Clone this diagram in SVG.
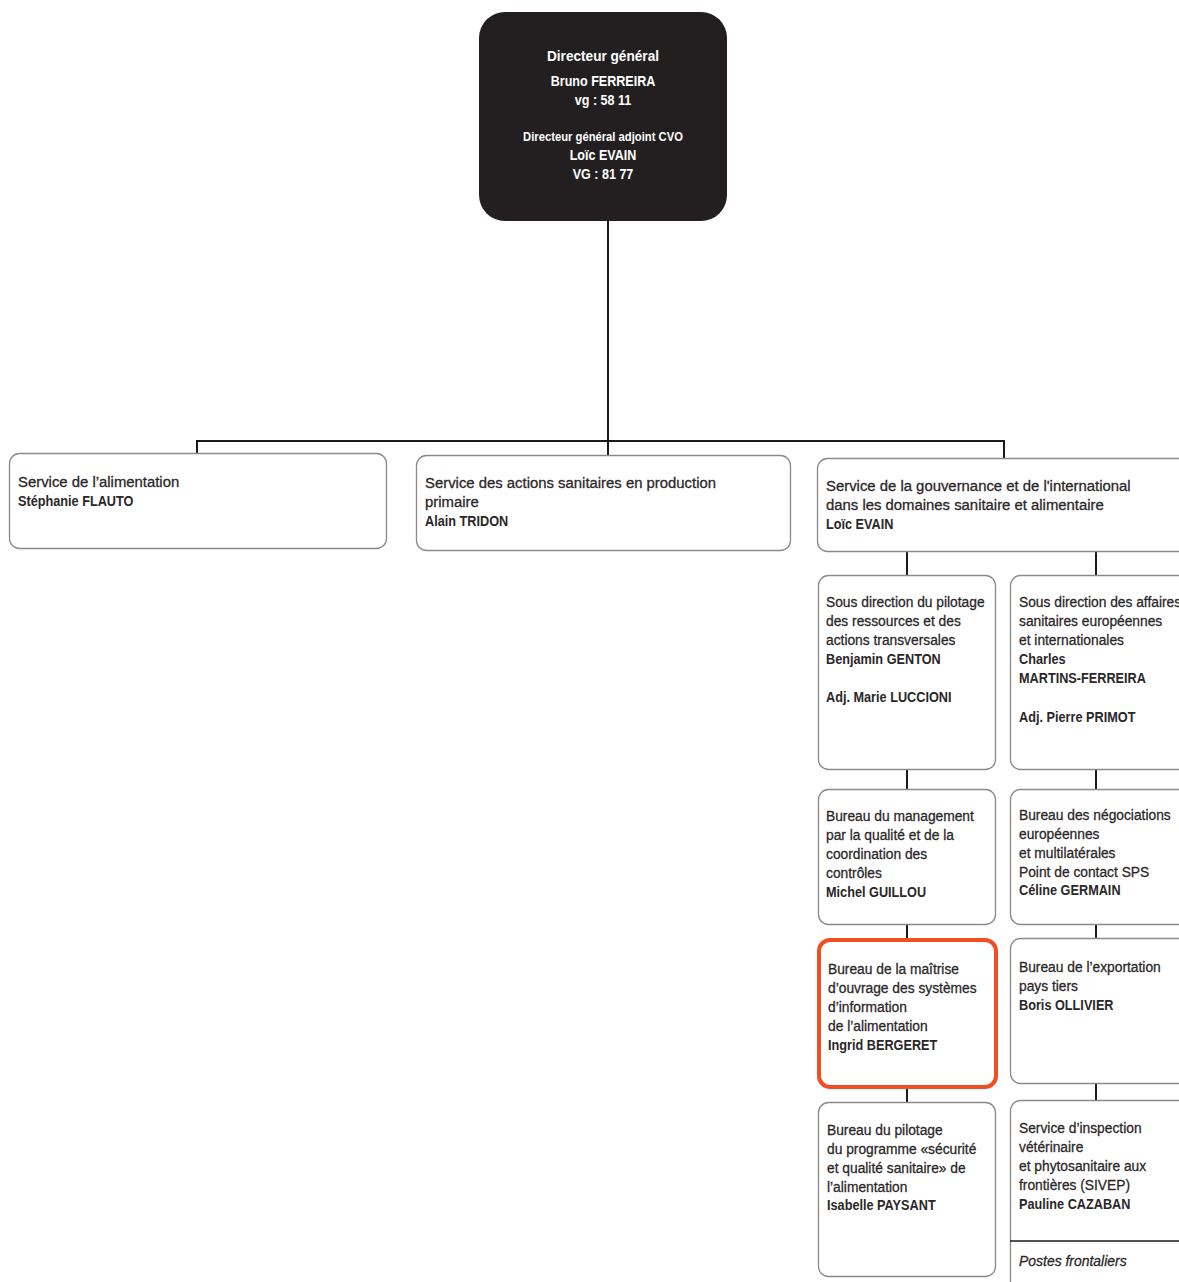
<svg xmlns="http://www.w3.org/2000/svg" width="1179" height="1282" viewBox="0 0 1179 1282">
<style>
text{font-family:"Liberation Sans",Arial,sans-serif;font-size:15.5px;fill:#2b2728;stroke:#2b2728;stroke-width:.3;transform-box:fill-box;transform-origin:0 0;transform:scaleX(.89)}
.t{transform:scaleX(.96)}
.b{font-weight:bold;stroke:none;transform:scaleX(.82)}
.i{font-style:italic;transform:scaleX(.9)}
.top text{fill:#fff;stroke:none;font-weight:bold;text-anchor:middle;transform-origin:50% 0;transform:scaleX(.81)}
.top text.h{transform:scaleX(.88)}
.top text.a{font-size:13px;transform:scaleX(.865)}
.box{fill:#fff;stroke:#8a8a8a;stroke-width:1.3}
.red{fill:#fff;stroke:#f04e23;stroke-width:4}
.c line{stroke:#1a1a1a;stroke-width:2}
</style>
<rect width="1179" height="1282" fill="#fff"/>
<g class="c" id="connectors">
<line x1="608" y1="221" x2="608" y2="442"/>
<line x1="196" y1="441" x2="1005" y2="441"/>
<line x1="197" y1="440" x2="197" y2="454"/>
<line x1="608" y1="440" x2="608" y2="455"/>
<line x1="1004" y1="440" x2="1004" y2="458"/>
<line x1="907" y1="551" x2="907" y2="575"/>
<line x1="1096" y1="551" x2="1096" y2="575"/>
<line x1="907" y1="769" x2="907" y2="789"/>
<line x1="1096" y1="769" x2="1096" y2="789"/>
<line x1="907" y1="924" x2="907" y2="940"/>
<line x1="1096" y1="924" x2="1096" y2="938"/>
<line x1="907" y1="1087" x2="907" y2="1102"/>
<line x1="1096" y1="1083" x2="1096" y2="1100"/>
</g>
<g id="dg" class="top">
<rect x="479" y="12" width="248" height="209" rx="26" fill="#231f20"/>
<text x="603" y="61" class="h">Directeur général</text>
<text x="603" y="86">Bruno FERREIRA</text>
<text x="603" y="105">vg : 58 11</text>
<text x="603" y="141" class="a">Directeur général adjoint CVO</text>
<text x="603" y="160">Loïc EVAIN</text>
<text x="603" y="179">VG : 81 77</text>
</g>
<g id="s-alim">
<rect class="box" x="9.5" y="453.5" width="377" height="95" rx="10"/>
<text x="18" y="487" class="t">Service de l’alimentation</text>
<text x="18" y="506" class="b">Stéphanie FLAUTO</text>
</g>
<g id="s-prod">
<rect class="box" x="416.5" y="455.5" width="374" height="95" rx="10"/>
<text x="425" y="488" class="t">Service des actions sanitaires en production</text>
<text x="425" y="507" class="t">primaire</text>
<text x="425" y="526" class="b">Alain TRIDON</text>
</g>
<g id="s-gouv">
<rect class="box" x="817.5" y="458.5" width="380" height="93" rx="10"/>
<text x="826" y="491" class="t">Service de la gouvernance et de l'international</text>
<text x="826" y="510" class="t">dans les domaines sanitaire et alimentaire</text>
<text x="826" y="529" class="b">Loïc EVAIN</text>
</g>
<g id="sd-pilotage">
<rect class="box" x="818.5" y="575.5" width="177" height="194" rx="10"/>
<text x="826" y="607">Sous direction du pilotage</text>
<text x="826" y="626">des ressources et des</text>
<text x="826" y="645">actions transversales</text>
<text x="826" y="664" class="b">Benjamin GENTON</text>
<text x="826" y="702" class="b">Adj. Marie LUCCIONI</text>
</g>
<g id="sd-affaires">
<rect class="box" x="1010.5" y="575.5" width="190" height="194" rx="10"/>
<text x="1019" y="607">Sous direction des affaires</text>
<text x="1019" y="626">sanitaires européennes</text>
<text x="1019" y="645">et internationales</text>
<text x="1019" y="664" class="b">Charles</text>
<text x="1019" y="683" class="b">MARTINS-FERREIRA</text>
<text x="1019" y="722" class="b">Adj. Pierre PRIMOT</text>
</g>
<g id="b-qualite">
<rect class="box" x="818.5" y="789.5" width="177" height="135" rx="10"/>
<text x="826" y="821">Bureau du management</text>
<text x="826" y="840">par la qualité et de la</text>
<text x="826" y="859">coordination des</text>
<text x="826" y="878">contrôles</text>
<text x="826" y="897" class="b">Michel GUILLOU</text>
</g>
<g id="b-nego">
<rect class="box" x="1010.5" y="789.5" width="190" height="135" rx="10"/>
<text x="1019" y="820">Bureau des négociations</text>
<text x="1019" y="839">européennes</text>
<text x="1019" y="858">et multilatérales</text>
<text x="1019" y="877">Point de contact SPS</text>
<text x="1019" y="895" class="b">Céline GERMAIN</text>
</g>
<g id="b-moa">
<rect class="red" x="819" y="940" width="177" height="147" rx="11"/>
<text x="828" y="974">Bureau de la maîtrise</text>
<text x="828" y="993">d’ouvrage des systèmes</text>
<text x="828" y="1012">d’information</text>
<text x="828" y="1031">de l’alimentation</text>
<text x="828" y="1050" class="b">Ingrid BERGERET</text>
</g>
<g id="b-export">
<rect class="box" x="1010.5" y="938.5" width="190" height="145" rx="10"/>
<text x="1019" y="972">Bureau de l’exportation</text>
<text x="1019" y="991">pays tiers</text>
<text x="1019" y="1010" class="b">Boris OLLIVIER</text>
</g>
<g id="b-pilotage">
<rect class="box" x="818.5" y="1102.5" width="177" height="174" rx="10"/>
<text x="827" y="1135">Bureau du pilotage</text>
<text x="827" y="1154">du programme «sécurité</text>
<text x="827" y="1173">et qualité sanitaire» de</text>
<text x="827" y="1192">l’alimentation</text>
<text x="827" y="1210" class="b">Isabelle PAYSANT</text>
</g>
<g id="sivep">
<rect class="box" x="1010.5" y="1100.5" width="190" height="195" rx="10"/>
<text x="1019" y="1133">Service d’inspection</text>
<text x="1019" y="1152">vétérinaire</text>
<text x="1019" y="1171">et phytosanitaire aux</text>
<text x="1019" y="1190">frontières (SIVEP)</text>
<text x="1019" y="1209" class="b">Pauline CAZABAN</text>
<line x1="1010" y1="1241" x2="1179" y2="1241" stroke="#1a1a1a" stroke-width="1.5"/>
<text x="1019" y="1266" class="i">Postes frontaliers</text>
</g>
</svg>
